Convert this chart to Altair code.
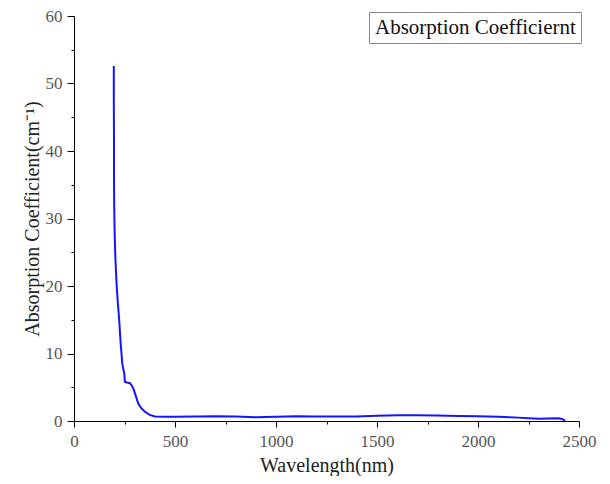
import altair as alt
import pandas as pd

wavelength = [197, 197, 198, 198, 199, 201, 205, 211, 217, 223, 231, 239, 249, 252, 262, 277, 285, 294, 305, 318, 333, 351, 375, 401, 450,
              500, 600, 700, 800, 900, 1000, 1100, 1200, 1300, 1400, 1500, 1600, 1700, 1800, 1900, 2000, 2100, 2200, 2250, 2300, 2350, 2400, 2415, 2432]
absorb = [52.6, 48.0, 42.0, 36.0, 32.0, 28.0, 24.0, 20.2, 17.5, 15.3, 11.5, 8.5, 7.0, 5.8, 5.7, 5.6, 5.3, 4.8, 3.8, 2.6, 1.9, 1.37, 0.9, 0.68, 0.62,
          0.62, 0.65, 0.7, 0.65, 0.55, 0.62, 0.7, 0.68, 0.66, 0.68, 0.78, 0.85, 0.85, 0.8, 0.75, 0.7, 0.62, 0.5, 0.42, 0.35, 0.38, 0.42, 0.3, 0.05]

series_name = "Absorption Coefficiernt"

df = pd.DataFrame({"Wavelength": wavelength, "Absorb": absorb, "Series": [series_name] * len(wavelength)})

FONT = "Liberation Serif, Times New Roman, Times, serif"

x_axis = alt.Axis(
    values=list(range(0, 2501, 250)),
    format="d",
    labelExpr="datum.value % 500 === 0 ? datum.label : ''",
    tickSize={"condition": {"test": "datum.value % 500 === 0", "value": 6}, "value": 3},
    labelFlush=False,
    grid=False,
    domainColor="#000000",
    tickColor="#000000",
    labelColor="#555555",
    labelFontSize=17,
    labelFont=FONT,
    labelPadding=6,
    titleFont=FONT,
    titleFontSize=20,
    titleFontWeight="normal",
    titleColor="#222222",
    titlePadding=6,
)

y_axis = alt.Axis(
    values=list(range(0, 61, 5)),
    format="d",
    labelExpr="datum.value % 10 === 0 ? datum.label : ''",
    tickSize={"condition": {"test": "datum.value % 10 === 0", "value": 7}, "value": 3},
    labelFlush=False,
    grid=False,
    domainColor="#000000",
    tickColor="#000000",
    labelColor="#555555",
    labelFontSize=17,
    labelFont=FONT,
    labelPadding=5,
    titleFont=FONT,
    titleFontSize=20,
    titleFontWeight="normal",
    titleColor="#222222",
    titlePadding=3,
)

chart = alt.Chart(df).mark_line(strokeWidth=2).encode(
    x=alt.X("Wavelength:Q", scale=alt.Scale(domain=[0, 2500], nice=False), axis=x_axis, title="Wavelength(nm)"),
    y=alt.Y("Absorb:Q", scale=alt.Scale(domain=[0, 60], nice=False), axis=y_axis, title="Absorption Coefficient(cm⁻¹)"),
    color=alt.Color(
        "Series:N",
        scale=alt.Scale(range=["#1414ff"]),
        legend=alt.Legend(
            title=None,
            orient="none",
            legendX=295,
            legendY=-4,
            symbolSize=0,
            symbolStrokeWidth=0,
            symbolOpacity=0,
            labelOffset={"expr": "-20"},
            labelLimit=400,
            labelFont=FONT,
            labelFontSize=21,
            labelColor="#111111",
            strokeColor="#888888",
            padding=5,
            symbolType="stroke",
        ),
    ),
).properties(
    width=505,
    height=405,
    autosize=alt.AutoSizeParams(type="none"),
    padding={"left": 66, "top": 8, "right": 20, "bottom": 55},
).configure_view(stroke=None)

chart.save("out.html", embed_options={"renderer": "svg", "actions": False})
